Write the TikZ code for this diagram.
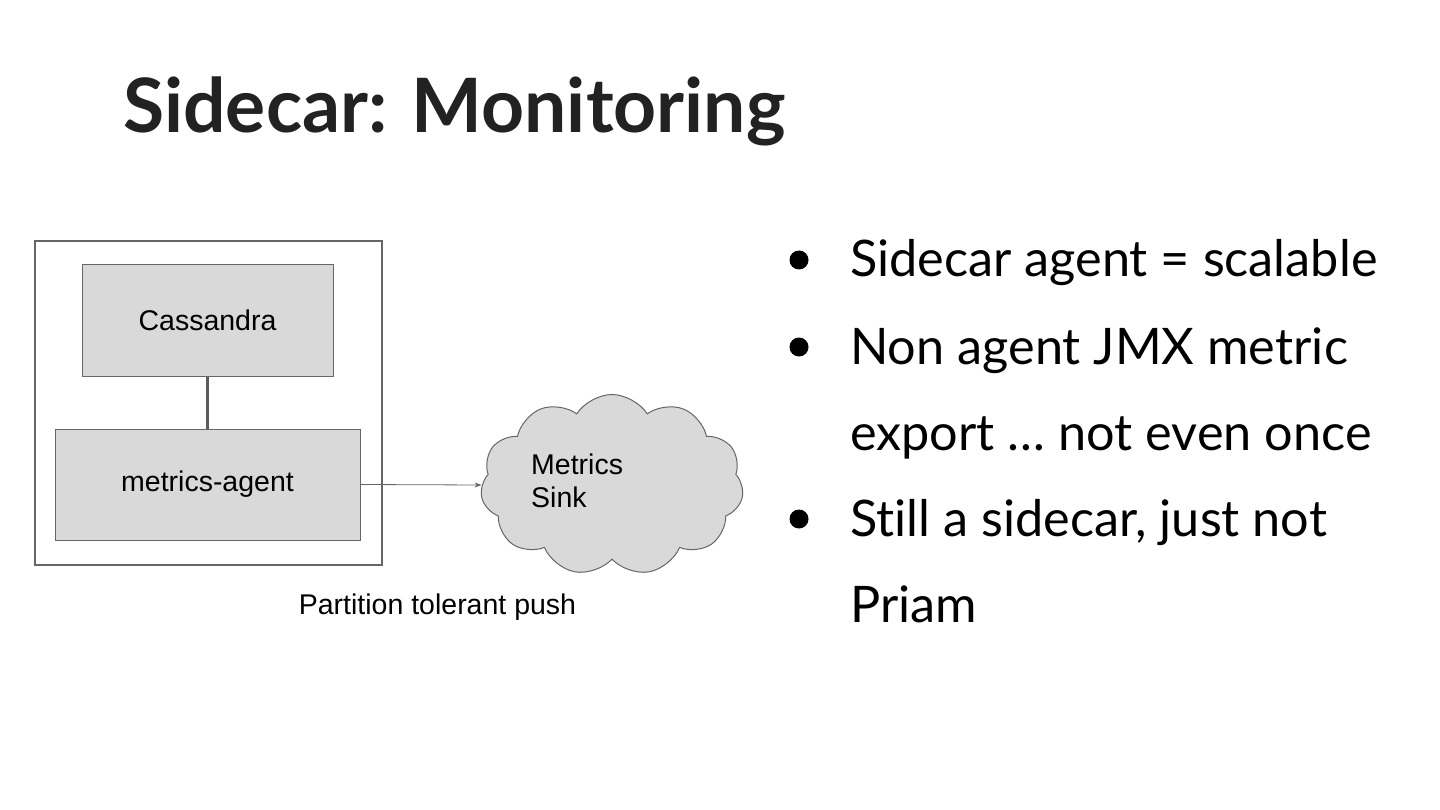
\documentclass[tikz,border=0pt]{standalone}
\usepackage{fontspec}
\setmainfont{Liberation Sans}
\newfontfamily\titlefont{Lato}
\newfontfamily\bodyfont[Ligatures={NoCommon}, RawFeature={-liga;-dlig}]{Lato}
\usetikzlibrary{shapes.symbols,arrows.meta}
\definecolor{boxfill}{HTML}{D9D9D9}
\definecolor{boxline}{HTML}{666666}
\definecolor{ink}{HTML}{222222}
\tikzset{
  x=1pt, y=-1pt,
  graybox/.style={draw=boxline, fill=boxfill, line width=1pt, rectangle, inner sep=0pt, font=\fontsize{28.5}{33}\selectfont},
  hostbox/.style={draw=boxline, line width=1.3pt, rectangle, inner sep=0pt},
  bodytext/.style={anchor=base west, inner sep=0pt, text=black, font=\bodyfont\fontsize{50.4}{58}\selectfont},
  smalltext/.style={inner sep=0pt, text=black, font=\fontsize{28.5}{33}\selectfont},
  bulletdot/.style={fill=black}
}
\begin{document}
\begin{tikzpicture}
\path[use as bounding box, fill=white] (0,0) rectangle (1440,810);
% title
\node[anchor=base west, inner sep=0pt, text=ink, font=\titlefont\bfseries\fontsize{75}{80}\selectfont] (title) at (123,133) {Sidecar: Monitoring};
% host box
\node[hostbox, minimum width=347pt, minimum height=324pt] (host) at (208.5,403) {};
\node[graybox, minimum width=251pt, minimum height=111pt] (cass) at (207.5,320.5) {Cassandra};
\node[graybox, minimum width=305pt, minimum height=111pt] (agent) at (207.5,484.5) {metrics-agent};
\draw[draw=boxline!90!black, line width=3pt] (cass.south) -- (agent.north);
% cloud
\node[cloud, cloud puffs=11, cloud puff arc=115, aspect=1.5, draw=boxline, fill=boxfill, line width=1pt, minimum width=263pt, minimum height=181pt, inner sep=0pt] (sink) at (612,485) {};
\node[smalltext, anchor=base west, align=left, font=\fontsize{28.5}{32.5}\selectfont] (sinktext) at (531,507) {Metrics\\Sink};
\draw[draw=boxline, line width=0.8pt, -{Stealth[length=7pt,width=5pt]}] (agent.east) -- (sink.west);
\node[smalltext, anchor=base] (push) at (437.5,614) {Partition tolerant push};
% bullets
\fill[bulletdot] (799,260) circle (9.5pt);
\fill[bulletdot] (799,347) circle (9.5pt);
\fill[bulletdot] (799,519) circle (9.5pt);
\node[bodytext] (b1) at (850,277) {Sidecar agent = scalable};
\node[bodytext] (b2) at (850,364) {Non agent JMX metric};
\node[bodytext] (b3) at (850,450) {export \dots\ not even once};
\node[bodytext] (b4) at (850,536) {Still a sidecar, just not};
\node[bodytext] (b5) at (850,622) {Priam};
\end{tikzpicture}
\end{document}
